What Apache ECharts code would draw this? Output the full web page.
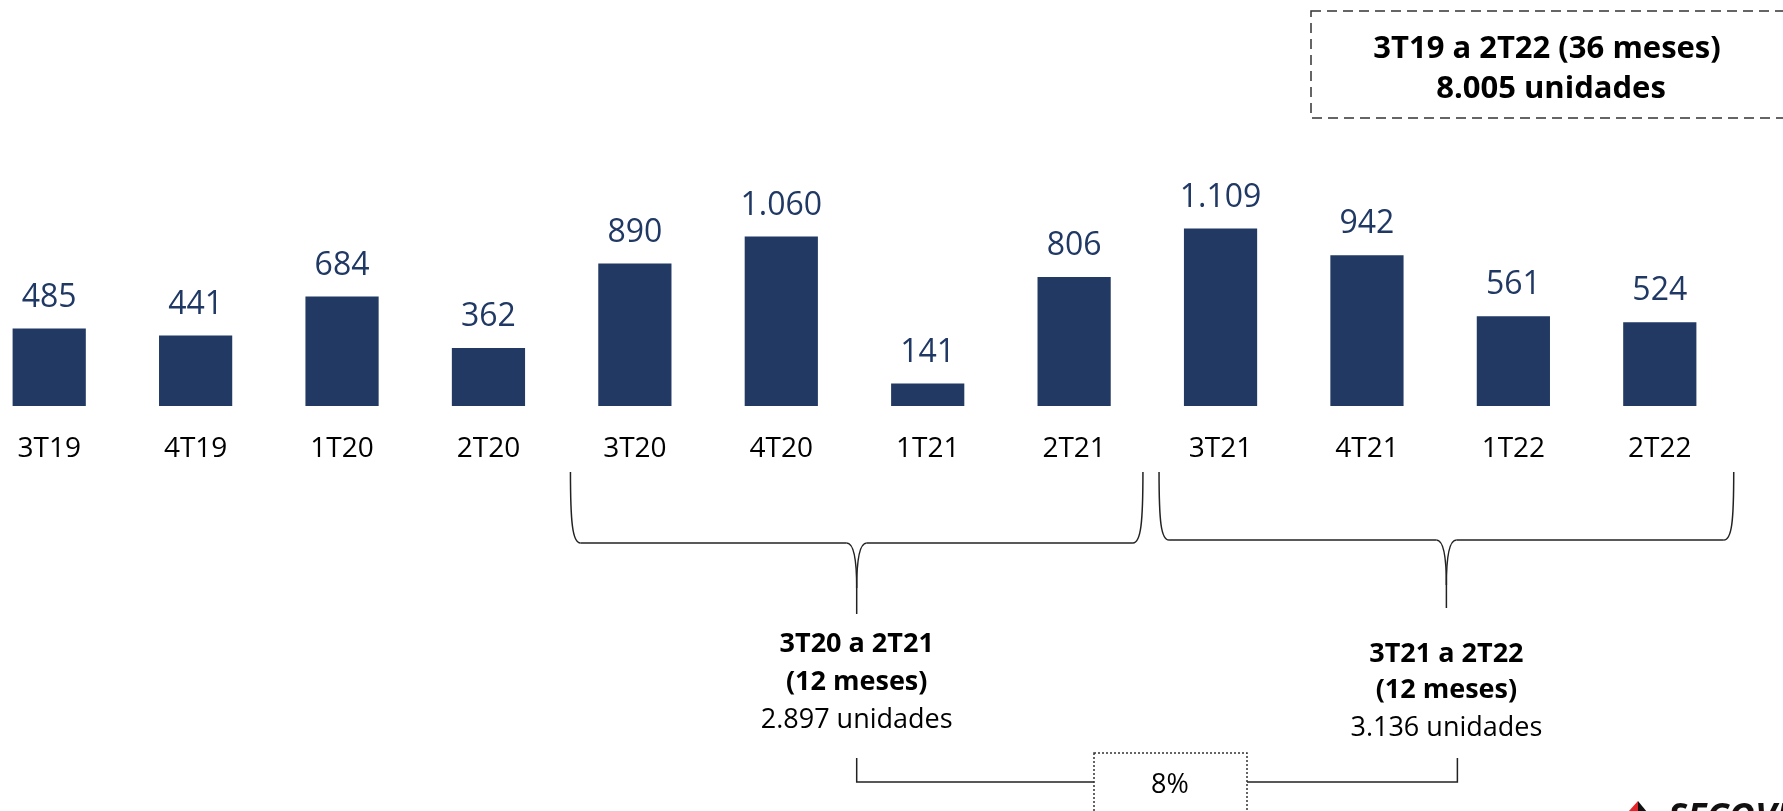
<!DOCTYPE html>
<html>
<head>
<meta charset="utf-8">
<script src="https://cdn.jsdelivr.net/npm/echarts@6/dist/echarts.min.js"></script>
<style>
  html, body { margin: 0; padding: 0; background: #fff; }
  #chart { width: 1783px; height: 811px; }
</style>
</head>
<body>
<div id="chart"></div>
<script>
// lançamentos por trimestre
const quarters = ['3T19', '4T19', '1T20', '2T20', '3T20', '4T20', '1T21', '2T21', '3T21', '4T21', '1T22', '2T22'];
const units = [485, 441, 684, 362, 890, 1060, 141, 806, 1109, 942, 561, 524];

const totalTitle = ['3T19 a 2T22 (36 meses)', '8.005 unidades'];
const period1 = ['3T20 a 2T21', '(12 meses)', '2.897 unidades'];
const period2 = ['3T21 a 2T22', '(12 meses)', '3.136 unidades'];
const growth = '8%';

const FONT = "'Open Sans', 'Noto Sans', sans-serif";
const NAVY = '#213963';

// 1.060 style
const fmt = (v) => String(v).replace(/\B(?=(\d{3})+(?!\d))/g, '.');

const chart = echarts.init(document.getElementById('chart'), null, {
  width: 1783,
  height: 811,
  renderer: 'canvas',
  devicePixelRatio: 1,
});

chart.setOption({
  animation: false,
  backgroundColor: '#fff',
  grid: {
    left: -24,
    right: 50,
    top: 166,
    bottom: 405,
    containLabel: false,
    outerBoundsMode: 'none'
  },
  xAxis: {
    type: 'category',
    data: quarters,
    axisLine: { show: false },
    axisTick: { show: false },
    axisLabel: {
      margin: 29,
      fontSize: 28,
      fontFamily: FONT,
      color: '#000'
    }
  },
  yAxis: {
    type: 'value',
    min: 0,
    max: 1500,
    show: false,
    splitLine: { show: false }
  },
  series: [
    {
      type: 'bar',
      data: units,
      barWidth: '50%',
      itemStyle: { color: NAVY },
      label: {
        show: true,
        position: 'top',
        distance: 15,
        fontSize: 32,
        fontFamily: FONT,
        color: '#203864',
        formatter: (p) => fmt(p.value)
      }
    }
  ]
});

// anotações (chaves, caixas) presas às posições das categorias
const px = (i) => chart.convertToPixel({ xAxisIndex: 0 }, i);
const bw = px(1) - px(0);
const LINE = { stroke: '#222', lineWidth: 1.5, fill: null };

function curve(x1, y1, cx1, cy1, cx2, cy2, x2, y2) {
  return {
    type: 'bezierCurve',
    shape: { x1: x1, y1: y1, cpx1: cx1, cpy1: cy1, cpx2: cx2, cpy2: cy2, x2: x2, y2: y2 },
    style: LINE
  };
}
function seg(x1, y1, x2, y2) {
  return { type: 'line', shape: { x1: x1, y1: y1, x2: x2, y2: y2 }, style: LINE };
}

function brace(x1, x2, top, mid, tip) {
  const c = (x1 + x2) / 2;
  return [
    curve(x1, top, x1, top + 50, x1 + 2, mid, x1 + 10, mid),
    seg(x1 + 10, mid, c - 10, mid),
    curve(c - 10, mid, c - 3, mid, c, mid + 15, c, mid + 45),
    curve(c + 10, mid, c + 3, mid, c, mid + 15, c, mid + 45),
    seg(c, mid + 45, c, tip),
    seg(c + 10, mid, x2 - 10, mid),
    curve(x2 - 10, mid, x2 - 2, mid, x2, top + 50, x2, top)
  ];
}

function textAt(x, y, text, size, bold) {
  return {
    type: 'text',
    x: x,
    y: y,
    style: {
      text: text,
      fontSize: size,
      fontWeight: bold ? 'bold' : 'normal',
      fontFamily: FONT,
      fill: '#000',
      align: 'center',
      verticalAlign: 'middle'
    }
  };
}

const b1L = px(4) - bw * 0.44, b1R = px(7) + bw * 0.47;
const b2L = px(8) - bw * 0.42, b2R = px(11) + bw * 0.505;
const c1 = (b1L + b1R) / 2, c2 = (b2L + b2R) / 2;

const graphics = [
  // caixa tracejada do total
  {
    type: 'rect',
    shape: { x: 1311, y: 11, width: 600, height: 107 },
    style: { fill: null, stroke: '#333', lineWidth: 1.5, lineDash: [10, 6] }
  },
  textAt(1547, 49, totalTitle[0], 31, true),
  textAt(1551, 89, totalTitle[1], 31, true),

  ...brace(b1L, b1R, 472, 543, 614),
  ...brace(b2L, b2R, 472, 540, 608),

  textAt(c1, 644, period1[0], 27, true),
  textAt(c1, 682, period1[1], 27, true),
  textAt(c1, 720, period1[2], 27, false),
  textAt(c2, 654, period2[0], 27, true),
  textAt(c2, 690, period2[1], 27, true),
  textAt(c2, 728, period2[2], 27, false),

  // ligação entre os dois períodos
  {
    type: 'polyline',
    shape: { points: [[c1, 758], [c1, 782], [1094, 782]] },
    style: LINE
  },
  {
    type: 'polyline',
    shape: { points: [[1247, 782], [c2 + 11, 782], [c2 + 11, 758]] },
    style: LINE
  },
  {
    type: 'rect',
    shape: { x: 1094, y: 753, width: 153, height: 80 },
    style: { fill: null, stroke: '#333', lineWidth: 1.5, lineDash: [2, 2] }
  },
  textAt(1170, 785, growth, 27, false),

  // logo cortado no canto
  {
    type: 'polygon',
    shape: { points: [[1628, 812], [1638, 801], [1638, 812]] },
    style: { fill: '#e3262b' }
  },
  {
    type: 'polygon',
    shape: { points: [[1638, 801], [1647, 812], [1638, 812]] },
    style: { fill: '#111' }
  },
  {
    type: 'text',
    x: 1668,
    y: 801,
    style: {
      text: 'SECOVI',
      fontSize: 36,
      fontWeight: 'bold',
      fontStyle: 'italic',
      fontFamily: FONT,
      fill: '#111',
      verticalAlign: 'top'
    }
  }
];

chart.setOption({ graphic: graphics });
</script>
</body>
</html>
